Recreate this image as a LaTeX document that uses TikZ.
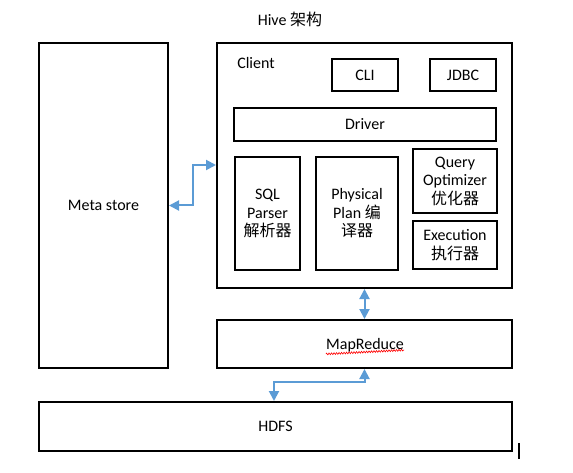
\documentclass[tikz,border=0pt]{standalone}
\usepackage{fontspec}
\setmainfont{Carlito}
\newfontfamily\cjk{Noto Sans CJK SC}
\usetikzlibrary{arrows.meta,decorations.pathmorphing}
\begin{document}
\begin{tikzpicture}[x=1pt,y=-1pt,
  box/.style={draw=black,line width=2pt,inner sep=0pt,align=center,font=\fontsize{16}{18.5}\selectfont},
  lbl/.style={inner sep=0pt,align=center,font=\fontsize{16}{18.5}\selectfont},
  conn/.style={draw={rgb,255:red,91;green,155;blue,213},line width=2pt,{Triangle[length=10pt,width=10pt]}-{Triangle[length=10pt,width=10pt]}}]
\useasboundingbox (0,0) rectangle (573,473);
\node[lbl] (title) at (290,19) {Hive {\cjk 架构}};
\node[box,minimum width=129pt,minimum height=325pt] (meta) at (103.5,205.5) {Meta store};
\node[box,minimum width=295pt,minimum height=245pt] (client) at (364.5,165.5) {};
\node[lbl] (clientlbl) at (256,63) {Client};
\node[box,minimum width=66pt,minimum height=32pt] (cli) at (365,75) {CLI};
\node[box,minimum width=66pt,minimum height=32pt] (jdbc) at (463,75) {JDBC};
\node[box,minimum width=262pt,minimum height=33pt] (driver) at (365,124.5) {Driver};
\node[box,minimum width=65pt,minimum height=113pt] (sql) at (267.5,213.5) {SQL\\Parser\\{\cjk 解析器}};
\node[box,minimum width=82pt,minimum height=113pt] (phys) at (357,213.5) {Physical\\Plan {\cjk 编}\\{\cjk 译器}};
\node[box,minimum width=84pt,minimum height=64pt] (query) at (455,181) {Query\\Optimizer\\{\cjk 优化器}};
\node[box,minimum width=84pt,minimum height=48pt] (exec) at (455,245) {Execution\\{\cjk 执行器}};
\node[box,minimum width=295pt,minimum height=48pt] (mr) at (364.5,344) {};
\node[lbl] (mrlbl) at (365,345) {MapReduce};
\node[box,minimum width=473pt,minimum height=49pt] (hdfs) at (275.5,426.5) {HDFS};
\coordinate (bend1) at (193,165);
\coordinate (bend2) at (274,382);
\draw[conn] (meta.east) -- (meta.east -| bend1) -- (bend1) -- (bend1 -| client.west);
\draw[conn] (client.south) -- (mr.north);
\draw[conn] (mr.south) -- (mr.south |- bend2) -- (bend2) -- (bend2 |- hdfs.north);
\draw[red,line width=0.6pt,decorate,decoration={zigzag,amplitude=0.9pt,segment length=2.5pt}] (mrlbl.south west) ++(0,2) -- ([yshift=2pt]mrlbl.south east);
\draw[line width=2pt] (519,443) -- (519,459);
\end{tikzpicture}
\end{document}
